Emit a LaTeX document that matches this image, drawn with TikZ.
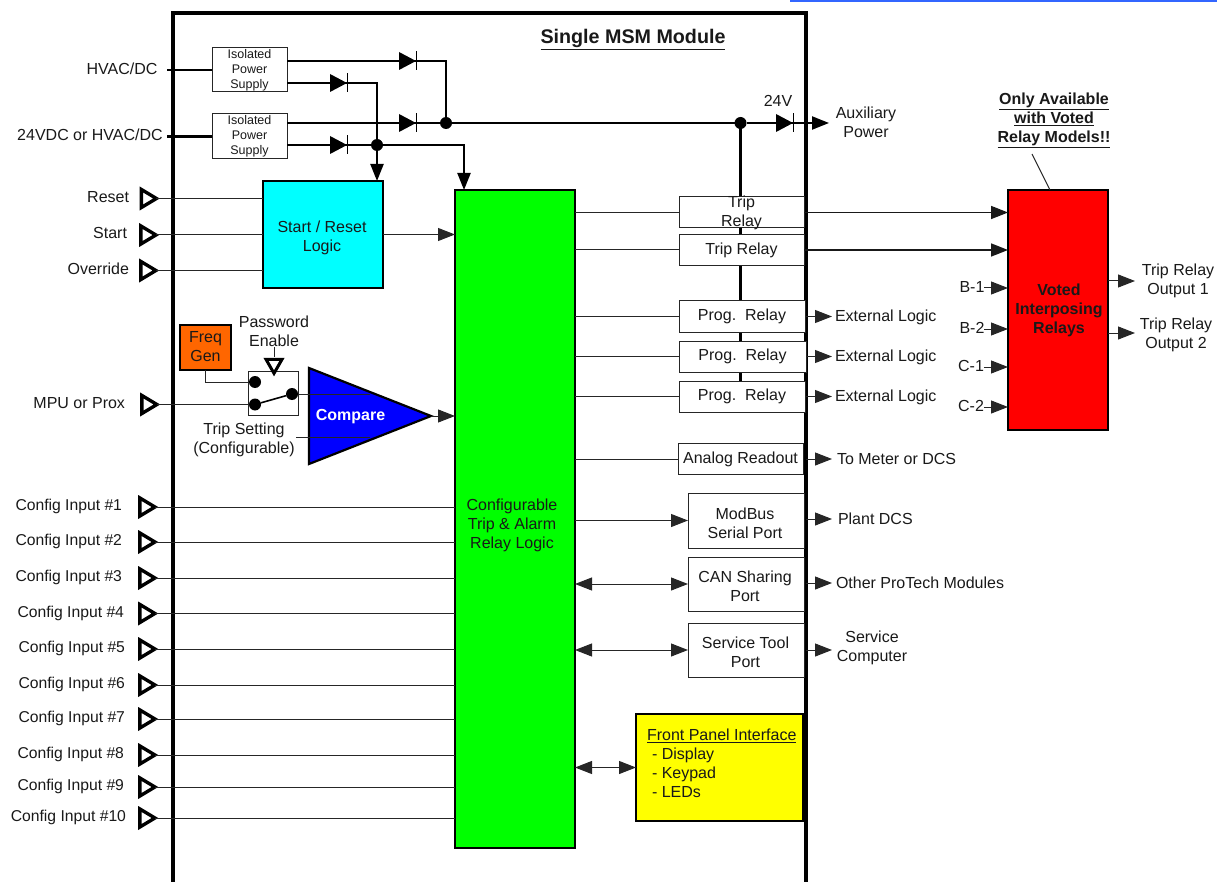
\documentclass[tikz,border=0pt]{standalone}
\usepackage{fontspec}
\setmainfont{Liberation Sans}
\usetikzlibrary{arrows.meta,shapes.geometric}
\definecolor{orangebox}{RGB}{255,102,0}
\definecolor{topline}{RGB}{51,102,255}
\definecolor{cyanbox}{RGB}{0,255,255}
\definecolor{yellowbox}{RGB}{255,255,0}
\definecolor{redbox}{RGB}{255,0,0}
\definecolor{greenbox}{RGB}{0,255,0}
\definecolor{bluebox}{RGB}{0,0,255}
\tikzset{
  every node/.style={inner sep=0pt,outer sep=0pt,font=\fontsize{16}{19}\selectfont,align=center,text=black!90},
  thinline/.style={line width=1pt,draw=black!85},
  power/.style={line width=2.2pt,draw=black},
  tip/.style={-{Triangle[length=17pt,width=13pt]}},
  tips/.style={{Triangle[length=17pt,width=13pt]}-{Triangle[length=17pt,width=13pt]}},
  thinarrow/.style={thinline,tip},
  medarrow/.style={line width=1.7pt,draw=black!90,tip},
  whitebox/.style={draw=black!85,line width=1pt,fill=white},
  logicbox/.style={draw=black,line width=2.2pt},
  intri/.style={isosceles triangle,isosceles triangle stretches,minimum width=18pt,minimum height=15pt,draw=black,line width=3.4pt,fill=white},
  dot/.style={circle,fill=black,minimum size=12pt},
  sdot/.style={circle,fill=black,minimum size=12pt},
  diodehead/.style={fill=black},
  diodebar/.style={line width=.7pt,draw=black},
  smalltext/.style={font=\fontsize{12.5}{15}\selectfont},
  boldtext/.style={font=\fontsize{16}{19}\selectfont\bfseries},
}
\newcommand{\diode}[2]{%
  \fill[diodehead] (#1,#2-9) -- (#1,#2+9) -- (#1+17,#2) -- cycle;
  \draw[diodebar] (#1+17.5,#2-9.5) -- (#1+17.5,#2+9.5);}
\begin{document}
\begin{tikzpicture}[x=1pt,y=-1pt]
\useasboundingbox (0,0) rectangle (1217,882);
\fill[topline] (790,0) rectangle (1217,2);
\draw[line width=4pt,draw=black] (173,882) -- (173,13) -- (806,13) -- (806,882);
\node[font=\fontsize{19.7}{22}\selectfont\bfseries] (title) at (633,39.5) {\underline{Single MSM Module}};

% bus behind the relays
\coordinate (j3pos) at (740.5,123);
\coordinate (busend) at (740.5,381);
\draw[power] (j3pos) -- (busend);

% power supplies
\node[whitebox,minimum width=75pt,minimum height=44pt,smalltext] (iso1) at (249.5,70) {Isolated\\Power\\Supply};
\node[whitebox,minimum width=75pt,minimum height=45pt,smalltext] (iso2) at (249.5,136.5) {Isolated\\Power\\Supply};
\node (hv) at (122,69) {HVAC/DC};
\node (lv) at (90,135) {24VDC or HVAC/DC};
\coordinate (hvs) at (167,70);
\coordinate (lvs) at (167,136.5);
\draw[power] (hvs) -- (iso1.west);
\draw[power] (lvs) -- (iso2.west);

\node[dot] (j1) at (446,123) {};
\node[dot] (j2) at (377,145) {};
\node[dot] (j3) at (j3pos) {};

% main blocks
\node[logicbox,fill=cyanbox,minimum width=120pt,minimum height=107pt] (start) at (323,234.5) {};
\node (startl2) at (322,237.5) {Start / Reset\\Logic};
\node[logicbox,fill=greenbox,minimum width=120pt,minimum height=658pt] (green) at (515,519) {};
\node (greentext) at (512,525) {Configurable\\Trip \& Alarm\\Relay Logic};

\coordinate (gi) at (464,190);
\draw[power] ([yshift=9pt]iso1.east) -| (j1);
\draw[power] ([yshift=-13pt]iso1.east) -| (j2);
\draw[power] ([yshift=13.5pt]iso2.east) -- (j1);
\draw[power] ([yshift=-8.5pt]iso2.east) -- (j2);
\draw[power,tip] (j2) -- (j2 |- start.north);
\draw[power,tip] (j2) -| (gi);
\draw[power] (j1) -- (j3);
\coordinate (auxend) at (829,123);
\draw[power,tip] (j3) -- (auxend);
\diode{399}{61}
\diode{330}{83}
\diode{399}{123}
\diode{330}{145}
\diode{776}{123}
\node (v24) at (778,101) {24V};
\node (aux) at (866,122.5) {Auxiliary\\Power};

% start inputs
\node[intri] (reset) at (146.5,198.5) {};
\node[intri] (startin) at (146,235) {};
\node[intri] (over) at (146,270.5) {};
\node[anchor=east] (resetl) at (129,197) {Reset};
\node[anchor=east] (startl) at (127,233) {Start};
\node[anchor=east] (overl) at (129,269) {Override};
\draw[thinline] (reset.apex) -- (reset.apex -| start.west);
\draw[thinline] (startin.apex) -- (startin.apex -| start.west);
\draw[thinline] (over.apex) -- (over.apex -| start.west);
\draw[thinarrow] (start.east) -- (start.east -| green.west);

% compare section
\node[logicbox,fill=orangebox,minimum width=51pt,minimum height=45pt] (freq) at (205.5,347.5) {};
\node (freql) at (205.5,346.5) {Freq\\Gen};
\node[whitebox,minimum width=50pt,minimum height=44pt] (sw) at (273.5,393) {};
\node[sdot] (s1) at (255,382) {};
\node[sdot] (s2) at (255,404.5) {};
\node[sdot] (s3) at (292,394) {};
\draw[line width=1.6pt,draw=black] (s2) -- (s3);
\node (pw) at (274,331.5) {Password\\Enable};
\node[intri,shape border rotate=-90,minimum width=16pt,minimum height=14pt,line width=3pt] (pwt) at (274,364) {};
\coordinate (pwtop) at (274,347);
\coordinate (pwbot) at (274,357);
\draw[thinline] (pwtop) -- (pwbot);
\draw[thinline] (freq.south) |- (s1.west);
\node[intri] (mpu) at (147,404.5) {};
\node[anchor=east] (mpul) at (125,403.5) {MPU or Prox};
\draw[thinline] (mpu.apex) -- (mpu.apex -| sw.west);
\node[isosceles triangle,isosceles triangle stretches,minimum width=96pt,minimum height=122pt,draw=black,line width=2.2pt,fill=bluebox,anchor=apex] (cmp) at (431,416) {};
\node[boldtext,text=white] (cmpl) at (350.5,416.5) {Compare};
\draw[thinline] (sw.east |- s3) -- (cmp.left side |- s3);
\node (trips) at (244,439.5) {Trip Setting\\(Configurable)};
\coordinate (tss) at (296,437);
\draw[thinline] (tss) -- (cmp.left side |- tss);
\draw[thinarrow] (cmp.apex) -- (cmp.apex -| green.west);

% config inputs
\foreach \i/\y/\r/\tx in {1/507/122/145,2/542/122/145,3/578/122/145,4/613.5/124/145,5/649/125/145,6/685/125/145,7/719/125/145,8/755/124/145,9/787/124/145,10/818/126/145}{
  \node[intri] (cfg\i) at (\tx,\y) {};
  \node[anchor=east,font=\fontsize{15.7}{19}\selectfont] (cfgl\i) at (\r,\y-0.5) {Config Input \#\i};
  \draw[thinline] (cfg\i.apex) -- (cfg\i.apex -| green.west);
}

% relays
\node[whitebox,minimum width=125pt,minimum height=31pt] (trip1) at (741.5,212.5) {};
\node (trip1l) at (741.5,212.5) {Trip\\Relay};
\node[whitebox,minimum width=125pt,minimum height=31pt] (trip2) at (741.5,250) {Trip Relay};
\node[whitebox,minimum width=126pt,minimum height=31pt] (prog1) at (742,316.5) {\raisebox{-1pt}{Prog.\ \ Relay}};
\node[whitebox,minimum width=127pt,minimum height=31pt] (prog2) at (742.5,356.5) {\raisebox{-1pt}{Prog.\ \ Relay}};
\node[whitebox,minimum width=126pt,minimum height=31pt] (prog3) at (742,396.5) {\raisebox{-1pt}{Prog.\ \ Relay}};
\node[whitebox,minimum width=125pt,minimum height=31pt] (ana) at (740.5,459) {Analog Readout};
\node[whitebox,minimum width=116pt,minimum height=55pt] (mod) at (746,520.5) {};
\node (modl) at (745,523.5) {ModBus\\Serial Port};
\node[whitebox,minimum width=116pt,minimum height=54pt] (can) at (746,584) {};
\node (canl) at (745,586) {CAN Sharing\\Port};
\node[whitebox,minimum width=116pt,minimum height=54pt] (svc) at (746,650) {};
\node (svcl) at (745.5,652) {Service Tool\\Port};
\node[logicbox,fill=yellowbox,minimum width=167pt,minimum height=107pt] (fp) at (719.5,767.5) {};
\node[anchor=west,align=left] (fpl) at (647,763.5) {\underline{Front Panel Interface}\\[0pt]\hspace{5pt}- Display\\\hspace{5pt}- Keypad\\\hspace{5pt}- LEDs};

\draw[thinline] (trip1.west -| green.east) -- (trip1.west);
\draw[thinline] (trip2.west -| green.east) -- (trip2.west);
\draw[thinline] (prog1.west -| green.east) -- (prog1.west);
\draw[thinline] (prog2.west -| green.east) -- (prog2.west);
\draw[thinline] (prog3.west -| green.east) -- (prog3.west);
\draw[thinline] (ana.west -| green.east) -- (ana.west);
\draw[thinarrow] (mod.west -| green.east) -- (mod.west);
\draw[thinline,tips] (can.west -| green.east) -- (can.west);
\draw[thinline,tips] (svc.west -| green.east) -- (svc.west);
\draw[thinline,tips] (fp.west -| green.east) -- (fp.west);

% external labels and outputs
\node[anchor=west] (ext1) at (835,317) {External Logic};
\node[anchor=west] (ext2) at (835,357) {External Logic};
\node[anchor=west] (ext3) at (835,397.5) {External Logic};
\node[anchor=west] (met) at (837,459) {To Meter or DCS};
\node[anchor=west] (dcs) at (838,519) {Plant DCS};
\node[anchor=west] (oth) at (836,583) {Other ProTech Modules};
\node (svcc) at (872,648) {Service\\Computer};
\coordinate (o1) at (806,316.5);
\coordinate (o2) at (806,356.5);
\coordinate (o3) at (806,396.5);
\coordinate (o4) at (806,459);
\coordinate (o5) at (806,519);
\coordinate (o6) at (806,583);
\coordinate (o7) at (806,650);
\foreach \o in {1,2,3,4,5,6,7}{
  \draw[thinarrow] (o\o) -- ++(26,0);
}

% voted relays
\node[logicbox,fill=redbox,minimum width=100pt,minimum height=240pt] (vote) at (1058,310) {};
\node[boldtext] (votel) at (1059,310) {Voted\\Interposing\\Relays};
\node[boldtext] (only) at (1054,120.5) {\underline{Only Available}\\\underline{with Voted}\\\underline{Relay Models!!}};
\coordinate (ol) at (1032,154);
\coordinate (ot) at (1050,190);
\draw[thinline] (ol) -- (ot);
\draw[medarrow] (trip1.east) -- (trip1.east -| vote.west);
\draw[medarrow] (trip2.east) -- (trip2.east -| vote.west);
\foreach \n/\t/\x/\y in {b1/B-1/972/288,b2/B-2/972/329,c1/C-1/971/367,c2/C-2/971/407}{
  \node (\n) at (\x,\y-1) {\t};
  \draw[thinarrow] (\n.east |- 984,\y) -- (vote.west |- 984,\y);
}
\node (out1) at (1178,280.5) {Trip Relay\\Output 1};
\node (out2) at (1176,334.5) {Trip Relay\\Output 2};
\coordinate (oa) at (1135,281);
\coordinate (ob) at (1135,333);
\draw[thinarrow] (vote.east |- oa) -- (oa);
\draw[thinarrow] (vote.east |- ob) -- (ob);
\end{tikzpicture}
\end{document}
